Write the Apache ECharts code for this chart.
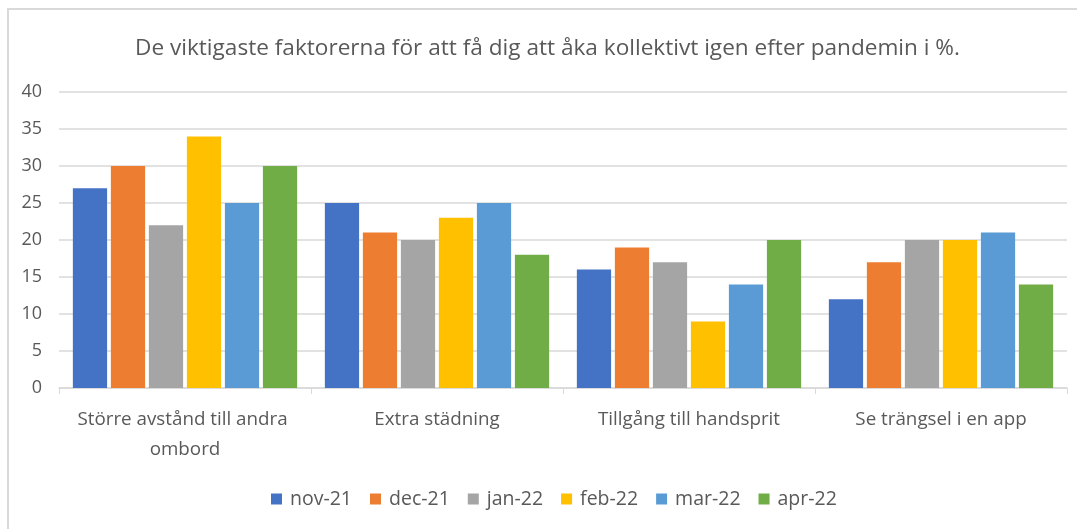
<!DOCTYPE html>
<html lang="sv">
<head>
    <meta charset="UTF-8">
    <script src="https://cdn.jsdelivr.net/npm/echarts@6/dist/echarts.min.js"></script>
    <title>Kollektivtrafik</title>
    <style>
        html, body { margin: 0; padding: 0; background: #fff; }
        #frame { position: absolute; left: 7px; top: 8px; right: -5px; bottom: -5px;
                 border-left: 2px solid #d9d9d9; border-top: 2px solid #d9d9d9; }
        #main { position: absolute; left: 0; top: 0; width: 1077px; height: 529px; }
    </style>
</head>
<body>
<div id="frame"></div>
<div id="main"></div>
<script type="text/javascript">
    // data
    var categories = ['Större avstånd till andra ombord', 'Extra städning', 'Tillgång till handsprit', 'Se trängsel i en app'];
    var months = ['nov-21', 'dec-21', 'jan-22', 'feb-22', 'mar-22', 'apr-22'];
    var nov21 = [27, 25, 16, 12];
    var dec21 = [30, 21, 19, 17];
    var jan22 = [22, 20, 17, 20];
    var feb22 = [34, 23, 9, 20];
    var mar22 = [25, 25, 14, 21];
    var apr22 = [30, 18, 20, 14];
    var yTicks = [0, 5, 10, 15, 20, 25, 30, 35, 40];

    var colors = ['#4472C4', '#ED7D31', '#A5A5A5', '#FFC000', '#5B9BD5', '#70AD47'];
    var values = [nov21, dec21, jan22, feb22, mar22, apr22];
    var font = '"Open Sans", sans-serif';

    var myChart = echarts.init(document.getElementById('main'));

    var series = months.map(function (m, i) {
        return {
            name: m,
            type: 'bar',
            data: values[i],
            barGap: '11%',
            barCategoryGap: '11%',
            itemStyle: { color: colors[i] }
        };
    });

    var option = {
        color: colors,
        animation: false,
        title: {
            text: 'De viktigaste faktorerna för att få dig att åka kollektivt igen efter pandemin i %.',
            left: 130,
            top: 32,
            textStyle: { fontFamily: font, fontSize: 22.6, fontWeight: 'normal', color: '#595959' }
        },
        legend: {
            data: months,
            bottom: 15,
            left: 266,
            itemWidth: 11,
            itemHeight: 11,
            itemGap: 18,
            icon: 'rect',
            textStyle: { fontFamily: font, fontSize: 19.5, color: '#595959', padding: [0, 0, 0, 3] }
        },
        grid: { left: 59, right: 10, top: 92, bottom: 141 },
        xAxis: {
            type: 'category',
            data: categories,
            axisLine: { lineStyle: { color: '#d9d9d9', width: 1.5 } },
            axisTick: { show: true, length: 6, lineStyle: { color: '#d9d9d9' } },
            axisLabel: {
                fontFamily: font, fontSize: 18.8, color: '#595959', margin: 17,
                width: 235, overflow: 'break', lineHeight: 30, interval: 0
            }
        },
        yAxis: {
            type: 'value',
            min: yTicks[0],
            max: yTicks[yTicks.length - 1],
            interval: 5,
            axisLine: { show: false },
            axisTick: { show: false },
            splitLine: { lineStyle: { color: '#d9d9d9', width: 1.5 } },
            axisLabel: { fontFamily: font, fontSize: 18, color: '#595959', margin: 17 }
        },
        series: series
    };

    myChart.setOption(option);
</script>
</body>
</html>
